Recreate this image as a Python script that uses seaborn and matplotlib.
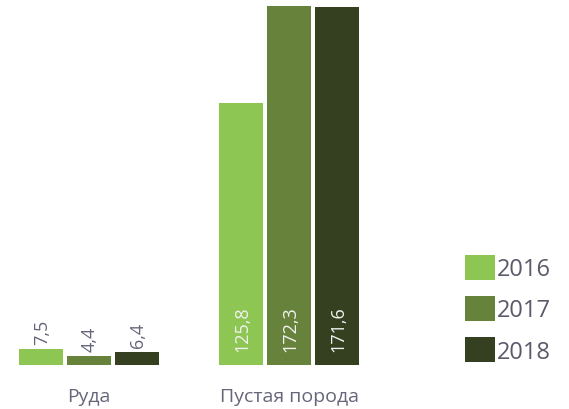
import matplotlib
matplotlib.use("Agg")
import matplotlib.pyplot as plt
from matplotlib.patches import Patch
import seaborn as sns
import pandas as pd

# Data
categories = ["Руда", "Пустая порода"]
years = ["2016", "2017", "2018"]
values_2016 = [7.5, 125.8]
values_2017 = [4.4, 172.3]
values_2018 = [6.4, 171.6]
colors = ["#8dc653", "#67833b", "#34401f"]

rows = []
for year, vals in zip(years, [values_2016, values_2017, values_2018]):
    for cat, v in zip(categories, vals):
        rows.append({"category": cat, "year": year, "value": v})
df = pd.DataFrame(rows)

sns.set_style("white")
plt.rcParams["font.family"] = ["Open Sans", "DejaVu Sans"]

fig = plt.figure(figsize=(5.69, 4.10), dpi=100)
ax = fig.add_axes([0, 44 / 410, 440 / 569, 366 / 410])

sns.barplot(data=df, x="category", y="value", hue="year", order=categories,
            hue_order=years, palette=colors, saturation=1, width=0.72, gap=0.08,
            legend=False, ax=ax, edgecolor="none")

ax.set_xlim(-0.445, 1.755)
ax.set_ylim(0, 175.6)

# Value labels: inside tall bars, above short bars
for container in ax.containers:
    for bar in container:
        h = bar.get_height()
        xc = bar.get_x() + bar.get_width() / 2
        txt = f"{h:.1f}".replace(".", ",")
        if h > 50:
            ax.annotate(txt, (xc, 0), xytext=(1, 14), textcoords="offset pixels",
                        rotation=90, ha="center", va="bottom",
                        color="#f2f2f2", fontsize=13)
        else:
            ax.annotate(txt, (xc, h), xytext=(1, 5), textcoords="offset pixels",
                        rotation=90, ha="center", va="bottom",
                        color="#66667a", fontsize=13)

ax.set_xlabel("")
ax.set_ylabel("")
ax.set_yticks([])
ax.tick_params(axis="x", length=0, pad=16, labelsize=14, labelcolor="#66667a")
for s in ax.spines.values():
    s.set_visible(False)

handles = [Patch(facecolor=c, edgecolor="none", label=y) for c, y in zip(colors, years)]
fig.legend(handles=handles, loc="upper left", bbox_to_anchor=(465 / 569, 1 - 256 / 410),
           frameon=False, fontsize=17, labelcolor="#5a5a6a",
           handlelength=1.25, handleheight=1.25, handletextpad=0.1,
           labelspacing=0.62, borderaxespad=0, borderpad=0)

fig.savefig("out.png", dpi=100)
